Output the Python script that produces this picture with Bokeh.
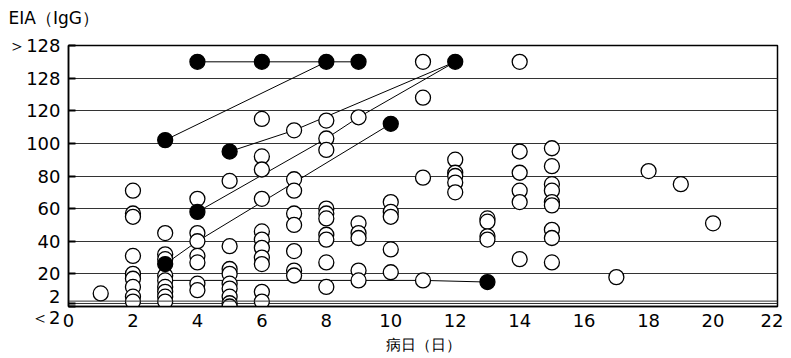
from bokeh.plotting import figure
from bokeh.models import Range1d, FixedTicker, Span, Title
from bokeh.embed import file_html
from bokeh.resources import INLINE

# ---- data (y in axis position units: 0..120 linear, 140 = "128", 160 = ">128") ----
x_ticks = list(range(0, 23, 2))
y_tick_pos = [0, 2, 20, 40, 60, 80, 100, 120, 140, 160]
y_tick_text = ["＜2", "2", "20", "40", "60", "80", "100", "120", "128", "＞128"]

open_day = ([1]
            + [2] * 9
            + [3] * 9
            + [4] * 7
            + [5] * 9
            + [6] * 11
            + [7] * 8
            + [8] * 10
            + [9] * 6
            + [10] * 5
            + [11] * 4
            + [12] * 5
            + [13] * 4
            + [14] * 6
            + [15] * 9
            + [17, 18, 19, 20])
open_val = ([8]
            + [71, 57, 55, 31, 20, 17, 12, 6, 3]
            + [45, 32, 29, 19, 16, 12, 9, 6, 3]
            + [66, 45, 40, 31, 27, 14, 10]
            + [77, 37, 23, 20, 14, 11, 6, 2, 0]
            + [115, 92, 84, 66, 46, 41, 36, 30, 26, 9, 3]
            + [108, 78, 71, 57, 50, 34, 22, 19]
            + [114, 103, 96, 60, 57, 54, 44, 41, 27, 12]
            + [116, 51, 45, 42, 22, 16]
            + [64, 58, 55, 35, 21]
            + [150, 128, 79, 16]
            + [90, 82, 80, 76, 70]
            + [54, 52, 43, 41]
            + [150, 95, 82, 71, 64, 29]
            + [97, 86, 75, 71, 64, 62, 47, 42, 27]
            + [18, 83, 75, 51])

filled_day = [3, 3, 4, 4, 5, 6, 8, 9, 10, 12, 13]
filled_val = [102, 26, 150, 58, 95, 150, 150, 150, 112, 150, 15]

line1_day, line1_val = [3, 8], [102, 150]
line2_day, line2_val = [4, 6, 8, 9], [150, 150, 150, 150]
line3_day, line3_val = [5, 7, 12], [95, 108, 150]
line4_day, line4_val = [4, 8, 9, 12], [58, 103, 116, 150]
line5_day, line5_val = [3, 4, 10], [26, 40, 112]
line6_day, line6_val = [3, 11, 13], [16, 16, 15]

FONT = "DejaVu Sans"

p = figure(width=783, height=350, output_backend="svg", toolbar_location=None,
           x_range=Range1d(0, 22), y_range=Range1d(0, 160),
           min_border_left=68, min_border_right=6, min_border_top=45, min_border_bottom=44)
p.frame_width = 709
p.frame_height = 261

# blank spacer between frame and title, to lift the title
p.add_layout(Title(text=" ", text_font_size="12px", standoff=0), "above")

p.title.text = "EIA（IgG）"
p.title.align = "left"
p.title.offset = -60
p.title.standoff = 4
p.title.text_font = FONT
p.title.text_font_size = "17px"
p.title.text_font_style = "normal"
p.title.text_color = "black"

p.background_fill_color = "white"
p.border_fill_color = "white"
p.outline_line_color = "black"
p.outline_line_width = 1.5
p.outline_line_alpha = 1

# axes
p.xaxis.ticker = FixedTicker(ticks=x_ticks)
p.xaxis.major_tick_in = 0
p.xaxis.major_tick_out = 0
p.xaxis.minor_tick_line_color = None
p.xaxis.axis_line_width = 1.5
p.xaxis.major_label_text_font = FONT
p.xaxis.major_label_text_font_size = "18px"
p.xaxis.major_label_text_color = "black"
p.xaxis.major_label_standoff = 7
p.xaxis.axis_label = "病日（日）"
p.xaxis.axis_label_text_font = FONT
p.xaxis.axis_label_text_font_size = "15px"
p.xaxis.axis_label_text_font_style = "normal"
p.xaxis.axis_label_text_color = "black"
p.xaxis.axis_label_standoff = 6

p.yaxis.ticker = FixedTicker(ticks=y_tick_pos)
overrides = {t: s for t, s in zip(y_tick_pos, y_tick_text)}
# the two crowded bottom labels share one tick: "2" above, "<2" below
overrides[y_tick_pos[0]] = y_tick_text[1] + "\n" + y_tick_text[0]
overrides[y_tick_pos[1]] = ""
p.yaxis.major_label_overrides = overrides
p.yaxis.major_label_text_line_height = 1.0
p.yaxis.major_tick_in = 7
p.yaxis.major_tick_out = 0
p.yaxis.major_tick_line_width = 2
p.yaxis.minor_tick_line_color = None
p.yaxis.axis_line_width = 1.5
p.yaxis.major_label_text_font = FONT
p.yaxis.major_label_text_font_size = "18px"
p.yaxis.major_label_text_color = "black"
p.yaxis.major_label_standoff = 8

p.xgrid.grid_line_color = None
p.ygrid.ticker = FixedTicker(ticks=y_tick_pos)
p.ygrid.grid_line_color = "#333333"
p.ygrid.grid_line_width = 1
p.add_layout(Span(location=3.3, dimension="width", line_color="#333333", line_width=1))

# patient lines
p.multi_line(xs=[line1_day, line2_day, line3_day, line4_day, line5_day, line6_day],
             ys=[line1_val, line2_val, line3_val, line4_val, line5_val, line6_val],
             line_color="black", line_width=1)

p.scatter(open_day, open_val, size=15, marker="circle", fill_color="white",
          line_color="black", line_width=1.3)
p.scatter(filled_day, filled_val, size=15, marker="circle", fill_color="black",
          line_color="black", line_width=1.3)

open("out.html", "w").write(file_html(p, INLINE))
